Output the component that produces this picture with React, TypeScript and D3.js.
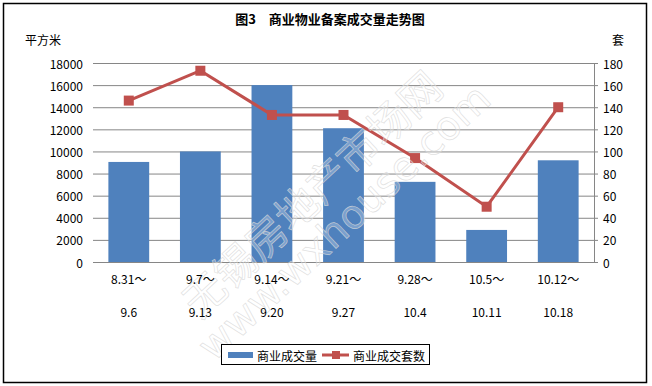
import React from 'react';
import * as d3 from 'd3';

const periodStart = ['8.31～', '9.7～', '9.14～', '9.21～', '9.28～', '10.5～', '10.12～'];
const periodEnd = ['9.6', '9.13', '9.20', '9.27', '10.4', '10.11', '10.18'];
const areaValues = [9050, 10000, 16000, 12100, 7250, 2900, 9200];
const unitValues = [146, 173, 133, 133, 94, 50, 140];
const leftTicks = [0, 2000, 4000, 6000, 8000, 10000, 12000, 14000, 16000, 18000];
const rightTicks = [0, 20, 40, 60, 80, 100, 120, 140, 160, 180];

const W = 652;
const H = 386;
const plot = { left: 93, right: 594, top: 63, bottom: 262 };
const barColor = '#4F81BD';
const lineColor = '#C0504D';
const gridColor = '#868686';
const font = "SimSun, 'Noto Sans CJK SC', sans-serif";

const App: React.FC = () => {
  const x = d3
    .scaleBand<number>()
    .domain(d3.range(periodStart.length))
    .range([plot.left, plot.right])
    .paddingInner(0.43)
    .paddingOuter(0.215);
  const xc = (i: number) => (x(i) as number) + x.bandwidth() / 2;
  const yL = d3.scaleLinear().domain([0, 18000]).range([plot.bottom, plot.top]);
  const yR = d3.scaleLinear().domain([0, 180]).range([plot.bottom, plot.top]);

  const linePath = d3
    .line<number>()
    .x((_, i) => xc(i))
    .y((d) => yR(d))(unitValues);

  return (
    <svg width={W} height={H} style={{ position: 'absolute', left: 0, top: 0, background: '#fff' }}>
      <rect x={3.5} y={3.5} width={643} height={379} fill="#fff" stroke="#000" strokeWidth={1.5} />

      <text x={330} y={24} textAnchor="middle" fontFamily={font} fontSize={13} fontWeight="bold">
        图3　商业物业备案成交量走势图
      </text>
      <text x={25} y={45} fontFamily={font} fontSize={12}>平方米</text>
      <text x={612} y={45} fontFamily={font} fontSize={12}>套</text>

      {leftTicks.map((t) => (
        <g key={t}>
          {t > 0 && (
            <line x1={plot.left} x2={plot.right} y1={yL(t) + 0.5} y2={yL(t) + 0.5} stroke={gridColor} strokeWidth={1} />
          )}
          <text x={83} y={yL(t)} textAnchor="end" dominantBaseline="central" fontFamily={font} fontSize={12}>
            {t}
          </text>
        </g>
      ))}

      {rightTicks.map((t) => (
        <g key={t}>
          <line x1={plot.right} x2={plot.right + 4} y1={yR(t) + 0.5} y2={yR(t) + 0.5} stroke={gridColor} />
          <text x={603} y={yR(t)} dominantBaseline="central" fontFamily={font} fontSize={12}>
            {t}
          </text>
        </g>
      ))}

      {areaValues.map((v, i) => (
        <rect key={i} x={x(i)} y={yL(v)} width={x.bandwidth()} height={plot.bottom - yL(v)} fill={barColor} />
      ))}

      <line x1={plot.left} x2={plot.right} y1={plot.bottom + 0.5} y2={plot.bottom + 0.5} stroke={gridColor} />
      <line x1={plot.right + 0.5} x2={plot.right + 0.5} y1={plot.top} y2={plot.bottom + 1} stroke={gridColor} />

      <path d={linePath || ''} fill="none" stroke={lineColor} strokeWidth={3} />
      {unitValues.map((v, i) => (
        <rect key={i} x={xc(i) - 5} y={yR(v) - 5} width={10} height={10} fill={lineColor} />
      ))}

      {/* watermark, faint outline over everything */}
      <g fontFamily="'Noto Sans CJK SC', sans-serif" fill="#fff" fillOpacity={0.25} stroke="#d8d8d8" strokeOpacity={0.8} strokeWidth={0.7}>
        <text x={310} y={192} fontSize={42} textAnchor="middle" dominantBaseline="central" transform="rotate(-43 310 192)">
          无锡房地产市场网
        </text>
        <text x={344} y={222} fontSize={40} textAnchor="middle" dominantBaseline="central" transform="rotate(-43 344 222)" fontFamily="'DejaVu Sans', sans-serif">
          www.wxhouse.com
        </text>
      </g>

      {periodStart.map((s, i) => (
        <g key={s} fontFamily={font} fontSize={12} textAnchor="middle">
          <text x={xc(i)} y={278} dominantBaseline="central">{s}</text>
          <text x={xc(i)} y={311} dominantBaseline="central">{periodEnd[i]}</text>
        </g>
      ))}

      {/* legend */}
      <rect x={221.5} y={344.5} width={208} height={20} fill="#fff" stroke="#000" />
      <rect x={228} y={352} width={25} height={6} fill={barColor} />
      <text x={257} y={355} dominantBaseline="central" fontFamily={font} fontSize={12}>商业成交量</text>
      <line x1={322} x2={349} y1={355} y2={355} stroke={lineColor} strokeWidth={3} />
      <rect x={332} y={351} width={8} height={8} fill={lineColor} />
      <text x={353} y={355} dominantBaseline="central" fontFamily={font} fontSize={12}>商业成交套数</text>
    </svg>
  );
};

export default App;
